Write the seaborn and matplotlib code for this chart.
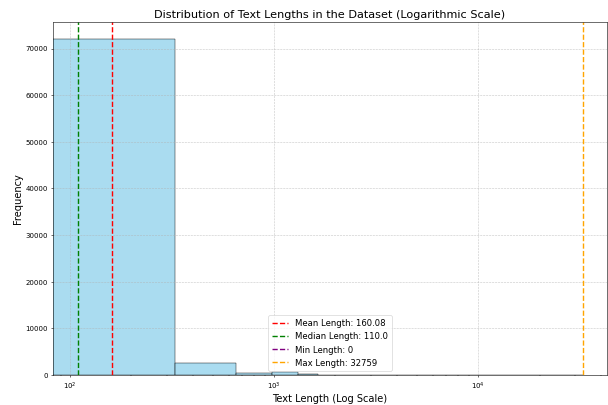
import numpy as np
import pandas as pd
import matplotlib
matplotlib.use("Agg")
import matplotlib.pyplot as plt
import seaborn as sns

# Histogram: 100 linear bins from 0 to max length, counts
max_length = 32759
mean_length = 160.08
median_length = 110.0
min_length = 0
n_bins = 100
head_counts = [72160, 2680, 430, 640, 200, 90, 45, 20, 10, 6, 4, 3, 2, 2, 1]
tail_counts = [1]  # last bin holding the max length

edges = np.linspace(0, max_length, n_bins + 1)
centers = (edges[:-1] + edges[1:]) / 2
counts = np.zeros(n_bins)
counts[:len(head_counts)] = head_counts
counts[-len(tail_counts):] = tail_counts
df = pd.DataFrame({"length": centers, "count": counts})

fig, ax = plt.subplots(figsize=(12, 8), dpi=608 / 12)
sns.histplot(data=df, x="length", weights="count", bins=n_bins,
             binrange=(0, max_length), color="skyblue",
             edgecolor="black", alpha=0.7, ax=ax)
ax.axvline(mean_length, color="red", linestyle="--", linewidth=2, label=f"Mean Length: {mean_length}")
ax.axvline(median_length, color="green", linestyle="--", linewidth=2, label=f"Median Length: {median_length}")
ax.axvline(min_length, color="purple", linestyle="--", linewidth=2, label=f"Min Length: {min_length}")
ax.axvline(max_length, color="orange", linestyle="--", linewidth=2, label=f"Max Length: {max_length}")
ax.set_xscale("log")
ax.set_xlim(82.6, 42700)
ax.set_ylim(0, 75800)
ax.set_title("Distribution of Text Lengths in the Dataset (Logarithmic Scale)", fontsize=16)
ax.set_xlabel("Text Length (Log Scale)", fontsize=14)
ax.set_ylabel("Frequency", fontsize=14)
ax.legend(loc="lower center", fontsize=12)
ax.grid(True, linestyle="--", alpha=0.7)
fig.subplots_adjust(left=0.087, right=0.998, top=0.946, bottom=0.074)
fig.savefig("out.png")
